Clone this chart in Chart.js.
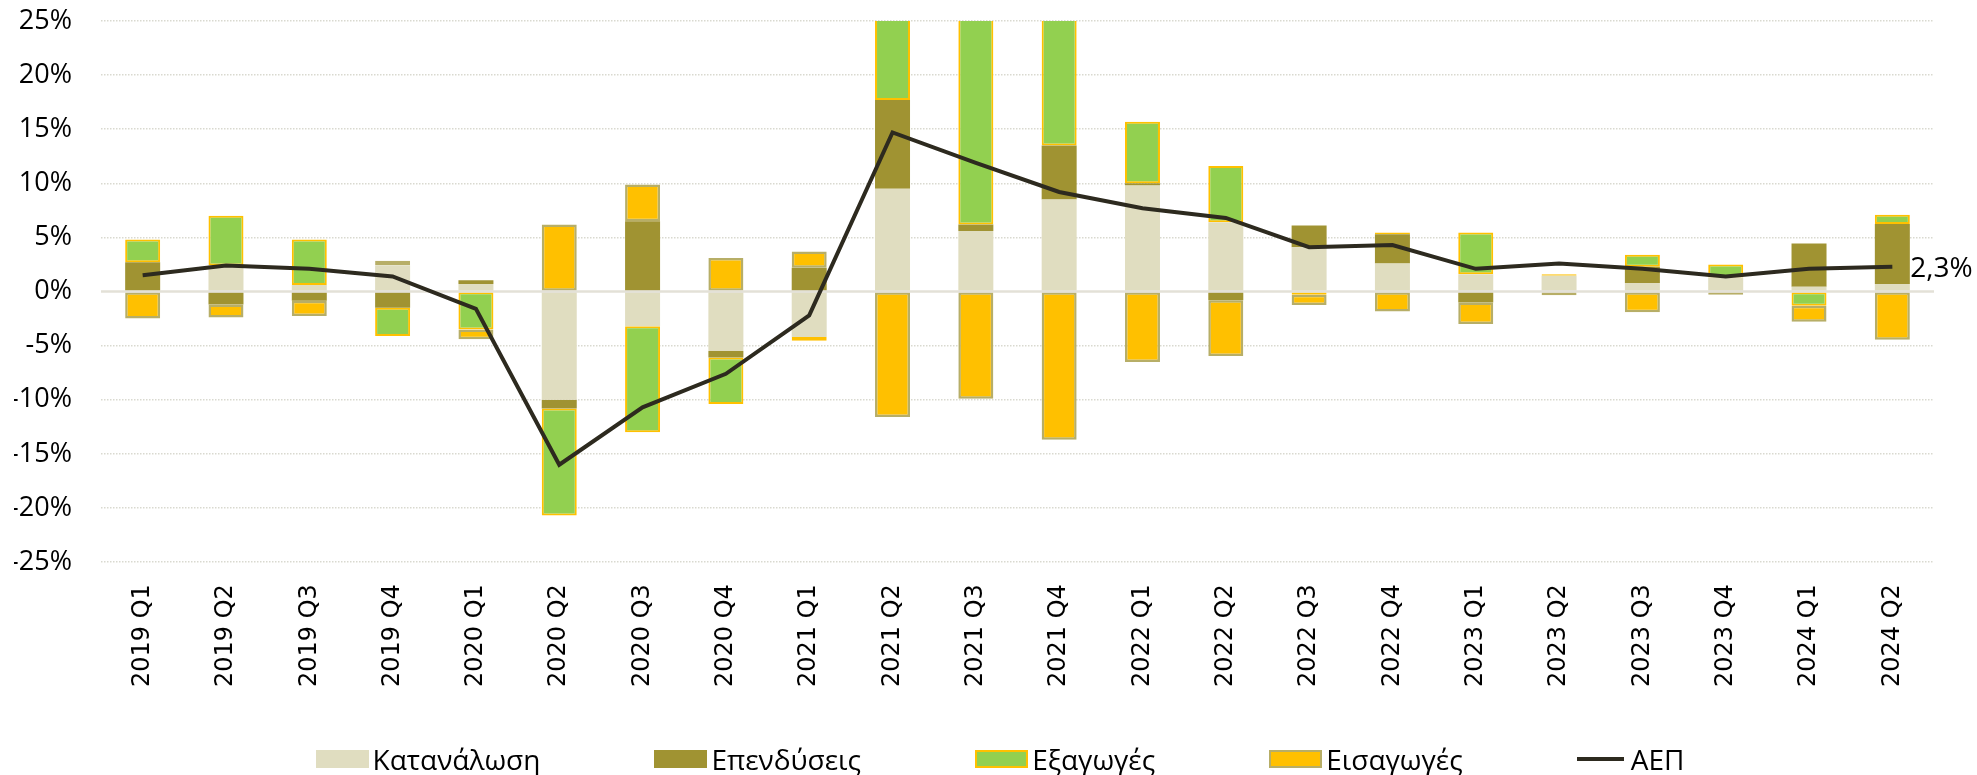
<!DOCTYPE html>
<html>
<head>
<meta charset="utf-8">
<script src="https://cdn.jsdelivr.net/npm/chart.js@4.4.1/dist/chart.umd.min.js"></script>
<style>
  html, body { margin: 0; padding: 0; background: #ffffff; }
  #wrap { position: relative; width: 1977px; height: 775px; overflow: hidden; }
  #c { position: absolute; left: 0; top: 0; }
  #legend { position: absolute; left: 0; top: 740px; width: 1977px; height: 38px; box-sizing: border-box; padding-left: 23px;
            display: flex; justify-content: center; align-items: center;
            font-family: 'Open Sans', 'Noto Sans', sans-serif; font-size: 28px; color: #000; }
  .item { display: flex; align-items: center; margin: 0 57px; white-space: nowrap; }
  .box { width: 53px; height: 18px; box-sizing: border-box; margin-right: 4px; }
  .ln { width: 47px; height: 4px; margin-right: 7px; }
</style>
</head>
<body>
<div id="wrap">
  <canvas id="c" width="1977" height="775"></canvas>
  <div id="legend"></div>
</div>
<script>
// ---- data (contributions to GDP growth, percentage points) ----
const categories = ['2019 Q1','2019 Q2','2019 Q3','2019 Q4','2020 Q1','2020 Q2','2020 Q3','2020 Q4',
                    '2021 Q1','2021 Q2','2021 Q3','2021 Q4','2022 Q1','2022 Q2','2022 Q3','2022 Q4',
                    '2023 Q1','2023 Q2','2023 Q3','2023 Q4','2024 Q1','2024 Q2'];
const consumption = [0, 2.4, 0.6, 2.4, 0.7, -10.0, -3.2, -5.5, -4.2, 9.5, 5.6, 8.5, 9.8, 6.4, 4.1, 2.6, 1.6, 1.45, 0.8, 1.3, 0.45, 0.7];
const investment  = [2.7, -1.2, -0.85, -1.5, 0.35, -0.8, 6.5, -0.6, 2.2, 8.2, 0.6, 5.0, 0.2, -0.8, 2.0, 2.7, -1.0, 0, 1.5, 0, 4.0, 5.55];
const exportsC    = [2.1, 4.6, 4.2, -2.6, -3.5, -9.9, -9.8, -4.3, -0.35, 12.0, 20.0, 14.0, 5.7, 5.2, -0.3, 0.15, 3.85, 0.15, 1.1, 1.2, -1.3, 0.85];
const importsC    = [-2.5, -1.2, -1.4, 0.45, -0.9, 6.2, 3.4, 3.1, 1.5, -11.6, -9.9, -13.7, -6.5, -5.15, -0.95, -1.85, -2.0, -0.35, -1.9, -0.3, -1.5, -4.45];
const gdp         = [1.5, 2.4, 2.1, 1.4, -1.6, -16.0, -10.7, -7.6, -2.2, 14.7, 11.9, 9.2, 7.7, 6.8, 4.1, 4.3, 2.1, 2.6, 2.1, 1.4, 2.1, 2.3];
const seriesNames = ['Κατανάλωση', 'Επενδύσεις', 'Εξαγωγές', 'Εισαγωγές', 'ΑΕΠ'];
const yTicks = [-25, -20, -15, -10, -5, 0, 5, 10, 15, 20, 25];

// ---- styles ----
const C_CONS = '#E0DDC0', C_INV = '#A09332', C_EXP = '#92D050', C_EXP_B = '#FFC000',
      C_IMP = '#FFC000', C_IMP_B = '#B7AE67', C_GDP = '#2D2A1F';

const barCommon = { categoryPercentage: 1.0, barPercentage: 0.42, borderSkipped: false, order: 1, stack: 's' };

const zeroLine = {
  id: 'zeroLine',
  beforeDatasetDraw(chart, args) {
    if (args.index !== 4) return;
    const y = chart.scales.y.getPixelForValue(0);
    const { left, right } = chart.chartArea;
    const ctx = chart.ctx;
    ctx.save();
    ctx.strokeStyle = '#E3E1D7';
    ctx.lineWidth = 2.5;
    ctx.beginPath(); ctx.moveTo(left, y); ctx.lineTo(right, y); ctx.stroke();
    ctx.restore();
  }
};

const lastLabel = {
  id: 'lastLabel',
  afterDatasetsDraw(chart) {
    const meta = chart.getDatasetMeta(4);
    const pt = meta.data[meta.data.length - 1];
    const v = gdp[gdp.length - 1];
    const ctx = chart.ctx;
    ctx.save();
    ctx.font = "28px 'Open Sans', 'Noto Sans', sans-serif";
    ctx.fillStyle = '#000';
    ctx.textAlign = 'left';
    ctx.textBaseline = 'middle';
    ctx.fillText(v.toFixed(1).replace('.', ',') + '%', pt.x + 18, pt.y + 2);
    ctx.restore();
  }
};

const chart = new Chart(document.getElementById('c'), {
  data: {
    labels: categories,
    datasets: [
      Object.assign({ type: 'bar', label: seriesNames[0], data: consumption, backgroundColor: C_CONS, borderWidth: 0 }, barCommon),
      Object.assign({ type: 'bar', label: seriesNames[1], data: investment, backgroundColor: C_INV, borderWidth: 0 }, barCommon),
      Object.assign({ type: 'bar', label: seriesNames[2], data: exportsC, backgroundColor: C_EXP, borderColor: C_EXP_B, borderWidth: 2 }, barCommon),
      Object.assign({ type: 'bar', label: seriesNames[3], data: importsC, backgroundColor: C_IMP, borderColor: C_IMP_B, borderWidth: 2.5 }, barCommon),
      { type: 'line', label: seriesNames[4], data: gdp, borderColor: C_GDP, backgroundColor: C_GDP, borderWidth: 4,
        pointRadius: 0, tension: 0, order: 0, stack: 'line' }
    ]
  },
  options: {
    responsive: false,
    animation: false,
    devicePixelRatio: 1,
    layout: { padding: { left: 14, right: 43, top: 4, bottom: 66 } },
    plugins: { legend: { display: false }, tooltip: { enabled: false } },
    scales: {
      x: {
        stacked: true,
        grid: { display: false, drawTicks: false },
        border: { display: false },
        ticks: { autoSkip: false, maxRotation: 90, minRotation: 90, padding: 22, color: '#000',
                 font: { family: "'DejaVu Sans', sans-serif", size: 24 } }
      },
      y: {
        stacked: true,
        min: -25, max: 25,
        afterBuildTicks(scale) { scale.ticks = yTicks.map(v => ({ value: v })); },
        afterFit(scale) { scale.width = 87; scale.paddingTop = 21; scale.paddingBottom = 17; },
        grid: { color: ctx => (ctx.tick && ctx.tick.value === 0) ? 'rgba(0,0,0,0)' : '#D9D9D0', lineWidth: 1.5, drawTicks: false },
        border: { display: false, dash: [1.5, 1.5] },
        ticks: { padding: 29, color: '#000', font: { family: "'Open Sans', 'Noto Sans', sans-serif", size: 27 },
                 callback: v => v + '%' }
      }
    }
  },
  plugins: [zeroLine, lastLabel]
});

// ---- HTML legend built from the series ----
const legendEl = document.getElementById('legend');
const legendStyles = [
  { bg: C_CONS, border: 'none' },
  { bg: C_INV, border: 'none' },
  { bg: C_EXP, border: '2px solid ' + C_EXP_B },
  { bg: C_IMP, border: '2.5px solid ' + C_IMP_B },
  { line: C_GDP }
];
seriesNames.forEach((name, i) => {
  const st = legendStyles[i];
  const item = document.createElement('div');
  item.className = 'item';
  const sw = document.createElement('div');
  if (st.line) { sw.className = 'ln'; sw.style.background = st.line; }
  else { sw.className = 'box'; sw.style.background = st.bg; sw.style.border = st.border; }
  const tx = document.createElement('span');
  tx.textContent = name;
  item.appendChild(sw); item.appendChild(tx);
  legendEl.appendChild(item);
});
</script>
</body>
</html>
